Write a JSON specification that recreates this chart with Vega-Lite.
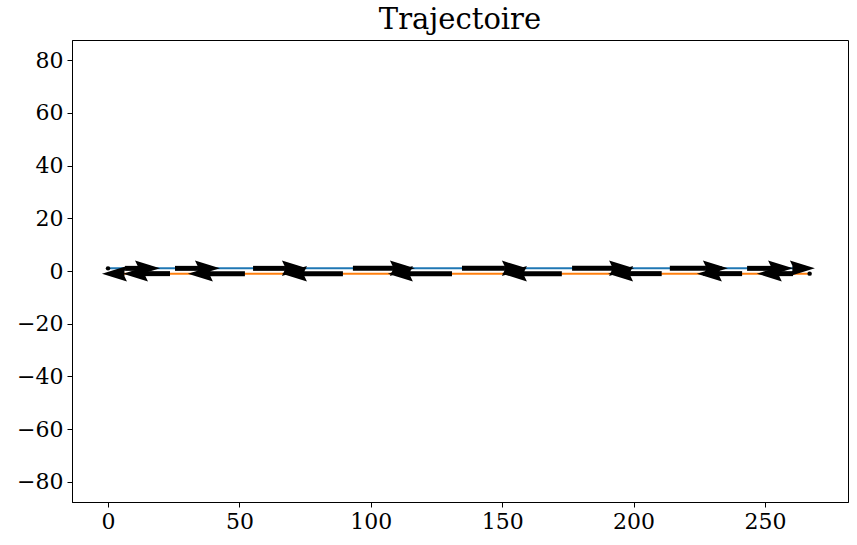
{
  "$schema": "https://vega.github.io/schema/vega-lite/v6.json",
  "width": 776,
  "height": 462,
  "autosize": "none",
  "padding": {"left": 72, "top": 40, "right": 9, "bottom": 43},
  "title": {"text": "Trajectoire", "font": "DejaVu Serif", "fontSize": 29, "fontWeight": "normal", "color": "black", "offset": 5},
  "config": {
    "view": {"stroke": "black", "strokeWidth": 1},
    "axis": {"labelFont": "DejaVu Serif", "labelFontSize": 22, "labelColor": "black", "tickColor": "black", "domainColor": "black", "tickSize": 5, "grid": false, "title": null, "labelPadding": 4}
  },
  "datasets": {
    "traj": [
      {"traj": "A", "x": 0, "y": 1},
      {"traj": "A", "x": 267, "y": 1},
      {"traj": "B", "x": 267, "y": -1},
      {"traj": "B", "x": 0, "y": -1}
    ],
    "starts": [
      {"x": 0, "y": 1},
      {"x": 267, "y": -1}
    ],
    "arrows": [
      {"dir": "R", "tail": 6.5, "tip": 19.8, "y": 1},
      {"dir": "R", "tail": 25.5, "tip": 42.6, "y": 1},
      {"dir": "R", "tail": 55.2, "tip": 75.7, "y": 1},
      {"dir": "R", "tail": 93.2, "tip": 116.8, "y": 1},
      {"dir": "R", "tail": 134.7, "tip": 159.4, "y": 1},
      {"dir": "R", "tail": 176.6, "tip": 200.2, "y": 1},
      {"dir": "R", "tail": 213.8, "tip": 235.9, "y": 1},
      {"dir": "R", "tail": 243.2, "tip": 260.7, "y": 1},
      {"dir": "R", "tail": 262.7, "tip": 269.0, "y": 1},
      {"dir": "L", "tail": 5.3, "tip": -2.3, "y": -1},
      {"dir": "L", "tail": 23.6, "tip": 5.7, "y": -1},
      {"dir": "L", "tail": 52.1, "tip": 30.4, "y": -1},
      {"dir": "L", "tail": 89.4, "tip": 66.2, "y": -1},
      {"dir": "L", "tail": 130.9, "tip": 106.5, "y": -1},
      {"dir": "L", "tail": 172.7, "tip": 149.9, "y": -1},
      {"dir": "L", "tail": 210.7, "tip": 190.3, "y": -1},
      {"dir": "L", "tail": 241.3, "tip": 224.1, "y": -1},
      {"dir": "L", "tail": 260.7, "tip": 246.9, "y": -1}
    ]
  },
  "encoding": {
    "x": {"type": "quantitative", "scale": {"domain": [-13.7, 281.6], "nice": false, "zero": false}, "axis": {"values": [0, 50, 100, 150, 200, 250]}},
    "y": {"type": "quantitative", "scale": {"domain": [-87.6, 87.6], "nice": false, "zero": false}, "axis": {"values": [-80, -60, -40, -20, 0, 20, 40, 60, 80]}}
  },
  "layer": [
    {
      "data": {"name": "traj"},
      "mark": {"type": "line", "strokeWidth": 2},
      "encoding": {
        "x": {"field": "x", "type": "quantitative"},
        "y": {"field": "y", "type": "quantitative"},
        "color": {"field": "traj", "type": "nominal", "scale": {"domain": ["A", "B"], "range": ["#1f77b4", "#ff7f0e"]}, "legend": null},
        "order": {"field": "x", "type": "quantitative"}
      }
    },
    {
      "data": {"name": "starts"},
      "mark": {"type": "point", "filled": true, "color": "black", "size": 20, "opacity": 1},
      "encoding": {
        "x": {"field": "x", "type": "quantitative"},
        "y": {"field": "y", "type": "quantitative"}
      }
    },
    {
      "data": {"name": "arrows"},
      "transform": [{"filter": "datum.dir == 'R'"}],
      "mark": {"type": "rule", "strokeWidth": 5, "color": "black", "x2Offset": -22},
      "encoding": {
        "x": {"field": "tail", "type": "quantitative"},
        "x2": {"field": "tip"},
        "y": {"field": "y", "type": "quantitative"}
      }
    },
    {
      "data": {"name": "arrows"},
      "transform": [{"filter": "datum.dir == 'L'"}],
      "mark": {"type": "rule", "strokeWidth": 5, "color": "black", "x2Offset": 22},
      "encoding": {
        "x": {"field": "tail", "type": "quantitative"},
        "x2": {"field": "tip"},
        "y": {"field": "y", "type": "quantitative"}
      }
    },
    {
      "data": {"name": "arrows"},
      "mark": {"type": "point", "filled": true, "color": "black", "opacity": 1, "size": 625, "strokeWidth": 0},
      "encoding": {
        "x": {"field": "tip", "type": "quantitative"},
        "y": {"field": "y", "type": "quantitative"},
        "shape": {"field": "dir", "type": "nominal", "scale": {"domain": ["R", "L"], "range": ["M0,0 L-2,-0.62 L-1.8,-0.2 L-1.8,0.2 L-2,0.62 Z", "M0,0 L2,-0.62 L1.8,-0.2 L1.8,0.2 L2,0.62 Z"]}, "legend": null}
      }
    }
  ]
}
